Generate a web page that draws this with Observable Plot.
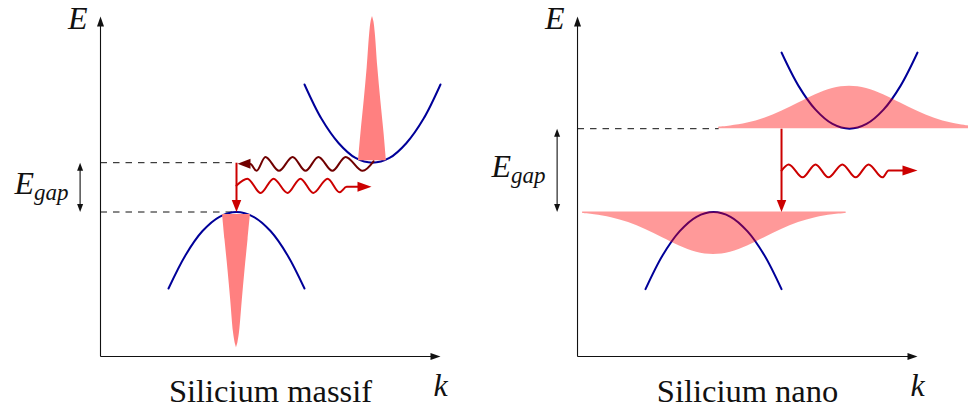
<!DOCTYPE html>
<html><head><meta charset="utf-8">
<script src="https://cdn.jsdelivr.net/npm/d3@7"></script>
<script src="https://cdn.jsdelivr.net/npm/@observablehq/plot@0.6"></script>
<style>html,body{margin:0;padding:0;background:#fff} #chart svg text{font-family:"Liberation Serif","DejaVu Serif",serif !important}</style>
</head><body><div id="chart"></div>
<script>
// ---------- data (k, E in diagram units) ----------
const panelNames = ["Silicium massif", "Silicium nano"];
const axisLength = 10;

// band edges
const conductionEdge = [5.7, 6.7];
const valenceEdge = [4.25, 4.25];
const transitionK = [4, 6];          // k of the vertical (recombination) arrow
const gapArrowK = -0.6;              // k of the E_gap double arrow

// bands
const massifCondK = [6, 6.5, 7, 7.5, 8, 8.5, 9, 9.5, 10];
const massifCondE = [8.0, 6.99, 6.28, 5.84, 5.7, 5.84, 6.28, 6.99, 8.0];
const massifValK  = [2, 2.5, 3, 3.5, 4, 4.5, 5, 5.5, 6];
const massifValE  = [2.0, 2.98, 3.69, 4.11, 4.25, 4.11, 3.69, 2.98, 2.0];
const nanoCondK   = [6, 6.5, 7, 7.5, 8, 8.5, 9, 9.5, 10];
const nanoCondE   = [8.94, 7.96, 7.26, 6.84, 6.7, 6.84, 7.26, 7.96, 8.94];
const nanoValK    = [2, 2.5, 3, 3.5, 4, 4.5, 5, 5.5, 6];
const nanoValE    = [1.98, 2.97, 3.68, 4.11, 4.25, 4.11, 3.68, 2.97, 1.98];

// massif: narrow distributions in k (vertical spikes)
const spikeUpCenterK = 8;
const spikeUpE    = [5.76, 6.56, 7.53, 8.5, 9.5, 9.85, 10.0];
const spikeUpHalf = [0.41, 0.34, 0.244, 0.156, 0.082, 0.04, 0];
const spikeDownCenterK = 4;
const spikeDownE    = [4.18, 3.44, 2.54, 1.65, 0.72, 0.4, 0.26];
const spikeDownHalf = [0.41, 0.34, 0.25, 0.17, 0.09, 0.04, 0];

// nano: broad distributions in k
const nanoCondDistK = [4.15, 4.5, 5, 5.5, 6, 6.5, 7, 7.5, 8, 8.5, 9, 9.5, 10, 10.5, 11, 11.5];
const nanoCondDistH = [0.046, 0.082, 0.169, 0.311, 0.514, 0.758, 1.001, 1.183, 1.25, 1.183, 1.001, 0.758, 0.514, 0.311, 0.169, 0.082];
const nanoValDistK  = [0.15, 0.5, 1, 1.5, 2, 2.5, 3, 3.5, 4, 4.5, 5, 5.5, 6, 6.5, 7, 7.5, 7.9];
const nanoValDistH  = [0.046, 0.082, 0.169, 0.311, 0.514, 0.758, 1.001, 1.183, 1.25, 1.183, 1.001, 0.758, 0.514, 0.311, 0.169, 0.082, 0.043];

// photons (wave extrema)
const massifEmitK = [4.0, 4.32, 4.71, 5.09, 5.5, 5.88, 6.26, 6.68, 7.03, 7.24, 7.59, 7.8];
const massifEmitE = [5.03, 5.23, 4.81, 5.23, 4.81, 5.23, 4.81, 5.23, 4.83, 4.99, 4.99, 4.99];
const massifEmitTip = [7.97, 4.99];
const massifAbsK = [4.25, 4.41, 4.59, 4.85, 5.25, 5.65, 6.03, 6.41, 6.82, 7.21, 7.71, 8.03];
const massifAbsE = [5.67, 5.66, 5.46, 5.87, 5.46, 5.87, 5.46, 5.87, 5.46, 5.87, 5.46, 5.74];
const massifAbsTip = [4.03, 5.67];
const nanoEmitK = [6.0, 6.21, 6.62, 7.0, 7.38, 7.79, 8.18, 8.56, 8.97, 9.15, 9.8];
const nanoEmitE = [5.47, 5.65, 5.27, 5.65, 5.27, 5.65, 5.27, 5.65, 5.27, 5.47, 5.47];
const nanoEmitTip = [10.0, 5.47];

// ---------- layout / style ----------
const shift = [0, 14.03];            // horizontal offset of each panel
const PX = 34;                       // px per unit (matches domains below)
const BLUE = "#000099", RED = "#cc0000", DARK = "#700000", SPIKE = "#ff8080";
const FONT = "'Liberation Serif', 'DejaVu Serif', serif";

const pts = (ks, es, s) => ks.map((k, i) => ({x: k + s, y: es[i]}));

function head(len, wid, dir) {
  const [ux, uy] = dir, px = -uy, py = ux;
  return {draw(ctx) {
    ctx.moveTo(0, 0);
    ctx.lineTo(-ux * len + px * wid / 2, -uy * len + py * wid / 2);
    ctx.lineTo(-ux * len - px * wid / 2, -uy * len - py * wid / 2);
    ctx.closePath();
  }};
}
const UP = [0, -1], DOWN = [0, 1], LEFT = [-1, 0], RIGHT = [1, 0];
const headMark = (x, y, len, wid, dir, color) =>
  Plot.dot([{x, y}], {x: "x", y: "y", r: 3, symbol: head(len, wid, dir), fill: color, stroke: "none"});

const marks = [];

// axes
panelNames.forEach((name, p) => {
  const s = shift[p];
  marks.push(Plot.link([{x1: s, y1: 0, x2: s, y2: axisLength - 5 / PX}], {x1: "x1", y1: "y1", x2: "x2", y2: "y2", stroke: "#111", strokeWidth: 1.1}));
  marks.push(Plot.link([{x1: s, y1: 0, x2: s + axisLength - 5 / PX, y2: 0}], {x1: "x1", y1: "y1", x2: "x2", y2: "y2", stroke: "#111", strokeWidth: 1.1}));
  marks.push(headMark(s, axisLength, 10, 7, UP, "#111"));
  marks.push(headMark(s + axisLength, 0, 10, 7, RIGHT, "#111"));
  // E_gap double arrow
  marks.push(Plot.link([{x1: s + gapArrowK, y1: valenceEdge[p] + 4 / PX, x2: s + gapArrowK, y2: conductionEdge[p] - 4 / PX}], {x1: "x1", y1: "y1", x2: "x2", y2: "y2", stroke: "#111", strokeWidth: 1.1}));
  marks.push(headMark(s + gapArrowK, conductionEdge[p], 8, 6, UP, "#111"));
  marks.push(headMark(s + gapArrowK, valenceEdge[p], 8, 6, DOWN, "#111"));
});

// dashed reference levels
const dashes = [
  {x1: shift[0], x2: shift[0] + transitionK[0], y: conductionEdge[0]},
  {x1: shift[0], x2: shift[0] + transitionK[0], y: valenceEdge[0]},
  {x1: shift[1], x2: shift[1] + nanoCondDistK[0], y: conductionEdge[1]}
];
marks.push(Plot.link(dashes, {x1: "x1", x2: "x2", y1: "y", y2: "y", stroke: "#111", strokeWidth: 1, strokeDasharray: "6.5,6"}));

// bands
for (const [ks, es, s] of [[massifCondK, massifCondE, shift[0]], [massifValK, massifValE, shift[0]], [nanoCondK, nanoCondE, shift[1]], [nanoValK, nanoValE, shift[1]]]) {
  marks.push(Plot.line(pts(ks, es, s), {x: "x", y: "y", stroke: BLUE, strokeWidth: 2, curve: "catmull-rom"}));
}

// massif spikes (opaque)
marks.push(Plot.areaX(spikeUpE.map((e, i) => ({y: e, x1: spikeUpCenterK - spikeUpHalf[i] + shift[0], x2: spikeUpCenterK + spikeUpHalf[i] + shift[0]})),
  {y: "y", x1: "x1", x2: "x2", fill: SPIKE, curve: "catmull-rom"}));
marks.push(Plot.areaX(spikeDownE.map((e, i) => ({y: e, x1: spikeDownCenterK - spikeDownHalf[i] + shift[0], x2: spikeDownCenterK + spikeDownHalf[i] + shift[0]})),
  {y: "y", x1: "x1", x2: "x2", fill: SPIKE, curve: "catmull-rom"}));

// vertical transition arrows
panelNames.forEach((name, p) => {
  const x = shift[p] + transitionK[p];
  marks.push(Plot.link([{x1: x, y1: conductionEdge[p], x2: x, y2: valenceEdge[p] + 6 / PX}], {x1: "x1", y1: "y1", x2: "x2", y2: "y2", stroke: RED, strokeWidth: 2}));
  marks.push(headMark(x, valenceEdge[p], 12, 9.5, DOWN, RED));
});

// photons
marks.push(Plot.line(pts(massifEmitK, massifEmitE, shift[0]), {x: "x", y: "y", stroke: RED, strokeWidth: 2, curve: "monotone-x"}));
marks.push(headMark(massifEmitTip[0] + shift[0], massifEmitTip[1], 14, 10, RIGHT, RED));
marks.push(Plot.line(pts(massifAbsK, massifAbsE, shift[0]), {x: "x", y: "y", stroke: DARK, strokeWidth: 2, curve: "monotone-x"}));
marks.push(headMark(massifAbsTip[0] + shift[0], massifAbsTip[1], 13, 10, LEFT, DARK));
marks.push(Plot.line(pts(nanoEmitK, nanoEmitE, shift[1]), {x: "x", y: "y", stroke: RED, strokeWidth: 2, curve: "monotone-x"}));
marks.push(headMark(nanoEmitTip[0] + shift[1], nanoEmitTip[1], 15, 10, RIGHT, RED));

// nano distributions (translucent, over the bands)
marks.push(Plot.areaY(nanoCondDistK.map((k, i) => ({x: k + shift[1], y1: conductionEdge[1], y2: conductionEdge[1] + nanoCondDistH[i]})),
  {x: "x", y1: "y1", y2: "y2", fill: "red", fillOpacity: 0.4, curve: "catmull-rom"}));
marks.push(Plot.areaY(nanoValDistK.map((k, i) => ({x: k + shift[1], y1: valenceEdge[1], y2: valenceEdge[1] - nanoValDistH[i]})),
  {x: "x", y1: "y1", y2: "y2", fill: "red", fillOpacity: 0.4, curve: "catmull-rom"}));

// texts
const textBase = {x: "x", y: "y", text: "t", fontFamily: FONT, fill: "#111", lineAnchor: "bottom"};
const titles = panelNames.map((n, p) => ({x: shift[p] + axisLength / 2, y: 0, t: n}));
marks.push(Plot.text(titles, {...textBase, fontSize: 32.5, dy: 45}));
const kLabels = panelNames.map((n, p) => ({x: shift[p] + axisLength, y: 0, t: "k"}));
marks.push(Plot.text(kLabels, {...textBase, fontSize: 32, fontStyle: "italic", dy: 39}));
const eLabels = panelNames.map((n, p) => ({x: shift[p], y: axisLength, t: "E"}));
marks.push(Plot.text(eLabels, {...textBase, fontSize: 32, fontStyle: "italic", textAnchor: "end", dx: -13, dy: 12}));
const gapMain = panelNames.map((n, p) => ({x: shift[p] + gapArrowK, y: (conductionEdge[p] + valenceEdge[p]) / 2, t: "E"}));
marks.push(Plot.text(gapMain, {...textBase, fontSize: 32, fontStyle: "italic", textAnchor: "end", dx: -46, dy: 6.5}));
const gapSub = panelNames.map((n, p) => ({x: shift[p] + gapArrowK, y: (conductionEdge[p] + valenceEdge[p]) / 2, t: "gap"}));
marks.push(Plot.text(gapSub, {...textBase, fontSize: 23, fontStyle: "italic", textAnchor: "start", dx: -46, dy: 12.5}));

const chart = Plot.plot({
  width: 968, height: 411, margin: 0,
  x: {domain: [-100 / PX, 868 / PX], axis: null},
  y: {domain: [-55 / PX, 356 / PX], axis: null},
  style: {background: "#fff", overflow: "visible"},
  marks
});
document.getElementById("chart").append(chart);
</script>
</body></html>
